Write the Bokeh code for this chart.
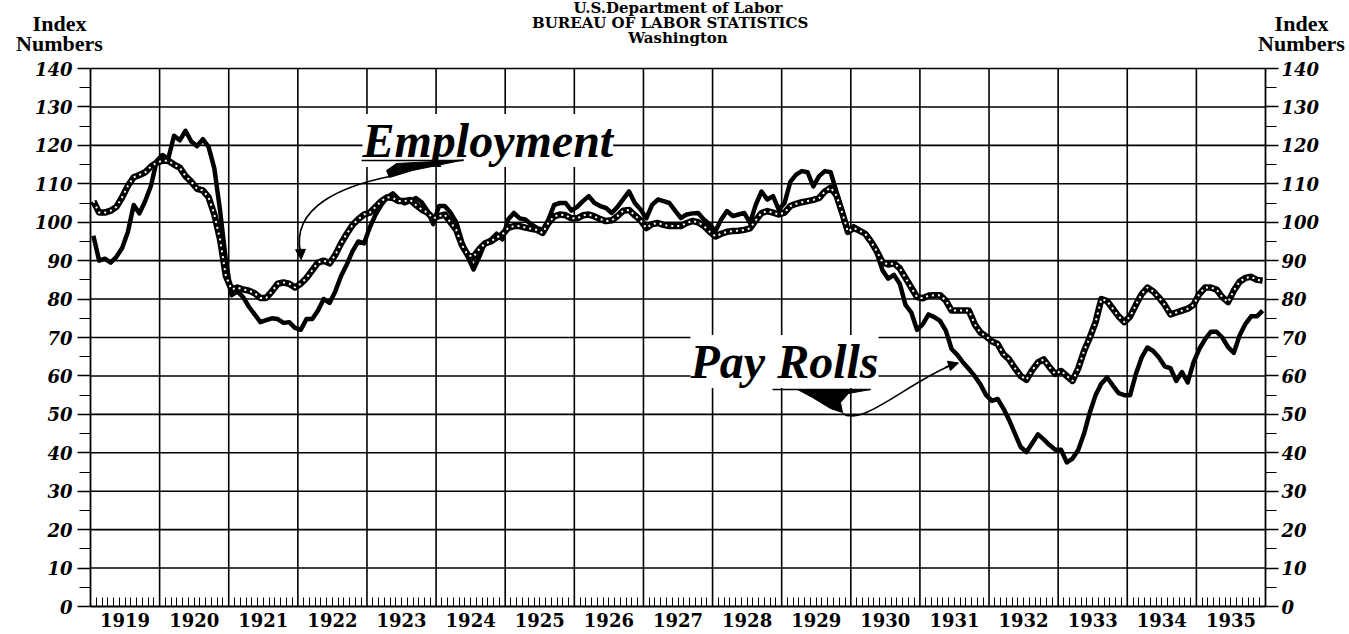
from bokeh.plotting import figure
from bokeh.models import Range1d, LinearAxis, FixedTicker, Label, Arrow, NormalHead
from bokeh.embed import file_html
from bokeh.resources import INLINE

# ---------------- data ----------------
years = list(range(1919, 1936))
y_ticks = list(range(0, 141, 10))

employment = [
    105.5, 102.5, 102.5, 103.0, 104.0, 106.5, 109.5, 111.7, 112.3, 113.0, 114.5, 115.5,   # 1919
    116.0, 116.0, 115.0, 114.2, 112.0, 110.5, 108.7, 108.3, 106.5, 102.0, 95.5, 86.0,     # 1920
    82.5, 83.0, 82.5, 82.2, 81.5, 80.3, 80.3, 82.0, 84.0, 84.3, 84.0, 83.0,               # 1921
    84.0, 85.5, 87.5, 89.5, 90.0, 89.3, 91.5, 94.5, 97.0, 99.3, 100.8, 102.0,             # 1922
    102.5, 104.0, 105.5, 106.5, 106.3, 105.5, 105.5, 105.8, 104.5, 103.3, 102.5, 101.0,   # 1923
    101.6, 102.0, 100.0, 98.0, 94.0, 91.5, 91.0, 93.0, 94.5, 95.0, 96.0, 96.8,            # 1924
    98.5, 99.0, 99.0, 98.6, 98.3, 98.0, 97.2, 99.8, 101.5, 102.0, 101.8, 101.0,           # 1925
    101.0, 101.8, 102.0, 101.5, 100.8, 100.3, 100.5, 101.6, 103.0, 103.2, 101.8, 100.5,   # 1926
    98.5, 99.5, 99.8, 99.3, 99.0, 99.0, 99.0, 99.8, 100.3, 100.0, 99.0, 97.5,             # 1927
    96.3, 97.0, 97.5, 97.7, 97.8, 98.0, 98.4, 100.5, 102.4, 102.9, 102.5, 102.0,          # 1928
    102.5, 104.2, 104.8, 105.2, 105.5, 105.8, 106.3, 108.0, 109.0, 107.0, 102.5, 97.5,    # 1929
    98.5, 97.8, 97.0, 95.0, 92.5, 89.6, 89.0, 89.3, 88.0, 85.5, 83.0, 80.5,               # 1930
    80.2, 80.9, 81.0, 81.0, 79.6, 77.0, 77.0, 77.0, 77.0, 73.5, 71.3, 70.3,               # 1931
    69.0, 68.3, 65.7, 64.3, 62.0, 60.0, 59.0, 61.5, 63.5, 64.3, 62.3, 60.5,               # 1932
    61.3, 60.0, 58.7, 62.0, 66.5, 70.0, 74.0, 80.0, 79.5, 77.5, 75.5, 74.0,               # 1933
    75.5, 78.5, 81.3, 83.0, 82.0, 80.4, 78.5, 76.0, 76.5, 77.0, 77.5, 78.5,               # 1934
    81.3, 83.0, 83.0, 82.5, 80.5, 79.2, 82.2, 84.5, 85.5, 85.8, 85.0, 84.8,               # 1935
]

pay_rolls = [
    96.5, 90.0, 90.5, 89.5, 91.0, 93.3, 97.5, 104.5, 102.3, 105.5, 109.5, 116.0,          # 1919
    117.5, 116.5, 122.5, 121.3, 123.8, 121.0, 119.8, 121.6, 119.6, 114.0, 103.0, 90.0,    # 1920
    81.0, 82.0, 80.5, 78.0, 76.0, 74.0, 74.5, 75.0, 74.8, 73.8, 74.0, 72.5,               # 1921
    72.0, 74.8, 74.8, 77.0, 80.0, 79.0, 82.0, 86.0, 89.0, 92.5, 95.0, 94.5,               # 1922
    98.7, 102.0, 104.5, 106.5, 107.5, 106.0, 104.9, 105.5, 106.3, 105.2, 103.0, 99.5,     # 1923
    104.2, 104.2, 102.5, 100.0, 95.0, 91.0, 87.7, 91.0, 94.6, 95.5, 97.0, 95.5,           # 1924
    100.7, 102.4, 101.0, 100.7, 99.5, 98.5, 98.0, 100.7, 104.5, 105.0, 105.0, 103.0,      # 1925
    104.0, 105.5, 106.8, 105.0, 104.2, 103.7, 102.4, 104.0, 106.0, 108.0, 105.0, 103.3,   # 1926
    101.0, 104.5, 105.9, 105.5, 105.0, 103.0, 101.1, 102.0, 102.3, 102.4, 100.7, 99.4,    # 1927
    97.7, 100.7, 102.9, 101.6, 102.0, 102.4, 99.8, 104.5, 108.0, 105.9, 106.8, 103.3,     # 1928
    105.0, 110.5, 112.4, 113.3, 113.0, 109.3, 112.0, 113.3, 113.0, 108.0, 103.0, 97.5,    # 1929
    99.0, 98.0, 97.0, 95.0, 92.0, 87.5, 85.3, 86.3, 84.0, 78.5, 76.5, 72.0,               # 1930
    73.5, 76.0, 75.3, 74.3, 71.8, 67.0, 65.5, 63.5, 61.8, 60.0, 57.8, 55.0,               # 1931
    53.5, 54.0, 51.5, 48.5, 45.0, 41.5, 40.2, 42.5, 44.8, 43.5, 42.0, 40.8,               # 1932
    40.8, 37.5, 38.5, 40.8, 45.0, 50.5, 55.0, 58.0, 59.6, 57.5, 55.5, 55.0,               # 1933
    55.0, 60.5, 64.8, 67.4, 66.5, 64.8, 62.5, 62.0, 58.7, 61.0, 58.3, 63.5,               # 1934
    67.0, 69.5, 71.5, 71.5, 70.0, 67.5, 66.0, 70.5, 73.5, 75.5, 75.5, 77.0,               # 1935
]

month_x = [years[0] + (i + 0.5) / 12 for i in range(len(employment))]

# ---------------- layout (canvas = frame; axes fixed inside) ----------------
W, H = 1349, 634
PX0, PX1 = 90, 1265        # canvas x of the left / right axis
PY_TOP, PY_BOT = 68, 606   # canvas y of the top / bottom of the value scale
X0, X1 = years[0], years[-1] + 1
Y0, Y1 = y_ticks[0], y_ticks[-1]
sx = (X1 - X0) / (PX1 - PX0)
sy = (Y1 - Y0) / (PY_BOT - PY_TOP)

p = figure(width=W, height=H,
           x_range=Range1d(X0 - PX0 * sx, X1 + (W - PX1) * sx),
           y_range=Range1d(Y0 - (H - PY_BOT) * sy, Y1 + PY_TOP * sy),
           x_axis_location=None, y_axis_location=None,
           toolbar_location=None, output_backend="svg", min_border=0)
p.outline_line_color = None
p.background_fill_color = "white"
p.border_fill_color = "white"
p.title.visible = False
for g in p.grid:
    g.visible = False


def X(px):
    return X0 + (px - PX0) * sx


def Y(py):
    return Y1 - (py - PY_TOP) * sy


# grid lines (years / tens)
p.segment(x0=X0, x1=X1, y0=y_ticks[1:], y1=y_ticks[1:], line_color="black", line_width=1.6)
p.segment(x0=years[1:], x1=years[1:], y0=Y0, y1=Y1, line_color="black", line_width=1.6)


# axes
def style_y(ax, standoff):
    ax.ticker = FixedTicker(ticks=y_ticks, minor_ticks=[v + 5 for v in y_ticks[:-1]])
    ax.bounds = (Y0, Y1)
    ax.major_tick_out = 13
    ax.major_tick_in = 0
    ax.minor_tick_out = 11
    ax.minor_tick_in = 0
    ax.major_tick_line_width = 1.6
    ax.minor_tick_line_width = 1.2
    ax.major_tick_line_color = "black"
    ax.minor_tick_line_color = "black"
    ax.axis_line_width = 1.8
    ax.axis_line_color = "black"
    ax.major_label_text_font = "DejaVu Serif"
    ax.major_label_text_font_style = "bold italic"
    ax.major_label_text_font_size = "18px"
    ax.major_label_text_color = "black"
    ax.major_label_standoff = standoff


left_axis = LinearAxis(fixed_location=X0)
style_y(left_axis, 5)
p.add_layout(left_axis, "left")
right_axis = LinearAxis(fixed_location=X1)
style_y(right_axis, 3)
p.add_layout(right_axis, "right")

xa = LinearAxis(fixed_location=Y0)
xa.bounds = (X0, X1)
xa.ticker = FixedTicker(ticks=[y + 0.5 for y in years],
                        minor_ticks=[years[0] + k / 12 for k in range(1, 12 * len(years)) if k % 12])
xa.major_label_overrides = {y + 0.5: str(y) for y in years}
xa.major_tick_out = 0
xa.major_tick_in = 0
xa.major_tick_line_color = None
xa.minor_tick_in = 9
xa.minor_tick_out = 0
xa.minor_tick_line_width = 1
xa.minor_tick_line_color = "black"
xa.axis_line_width = 1.8
xa.axis_line_color = "black"
xa.major_label_text_font = "DejaVu Serif"
xa.major_label_text_font_style = "bold"
xa.major_label_text_font_size = "18px"
xa.major_label_text_color = "black"
xa.major_label_standoff = 6
p.add_layout(xa, "below")

# ---------------- series ----------------
p.line(month_x, pay_rolls, line_color="black", line_width=4.5, line_join="round")
p.line(month_x, employment, line_color="black", line_width=6.5, line_join="round")
p.line(month_x, employment, line_color="white", line_width=2, line_dash="2 4")

# ---------------- texts ----------------
title_lines = ["U.S.Department of Labor", "BUREAU  OF  LABOR  STATISTICS", "Washington"]
for t, py in zip(title_lines, [7, 22, 37]):
    p.add_layout(Label(x=X((PX0 + PX1) / 2), y=Y(py), text=t, text_align="center",
                       text_baseline="middle", text_font="DejaVu Serif",
                       text_font_style="bold", text_font_size="15px", text_color="black"))

for cx in (59, 1301):
    for t, py in (("Index", 22.5), ("Numbers", 43)):
        p.add_layout(Label(x=X(cx), y=Y(py), text=t, text_align="center", text_baseline="middle",
                           text_font="Liberation Serif", text_font_style="bold",
                           text_font_size="22px", text_color="black"))

p.add_layout(Label(x=X(362), y=Y(140), text="Employment", text_align="left",
                   text_baseline="middle", text_font="Liberation Serif",
                   text_font_style="bold italic", text_font_size="48px", text_color="black",
                   background_fill_color="white"))
p.add_layout(Label(x=X(690), y=Y(361), text="Pay Rolls", text_align="left",
                   text_baseline="middle", text_font="Liberation Serif",
                   text_font_style="bold italic", text_font_size="48px", text_color="black",
                   background_fill_color="white"))

# swash + arrow for Employment
p.line([X(361), X(463)], [Y(160), Y(160)], line_color="black", line_width=1.5, level="overlay")
p.patch([X(463), X(396), X(386), X(389), X(412)],
        [Y(159.5), Y(163), Y(170), Y(177), Y(170)], color="black", level="overlay")
p.bezier(x0=[X(389)], y0=[Y(176)], x1=[X(300)], y1=[Y(252)],
         cx0=[X(345)], cy0=[Y(185)], cx1=[X(290)], cy1=[Y(205)],
         line_color="black", line_width=1.6, level="overlay")
p.add_layout(Arrow(end=NormalHead(size=10, fill_color="black", line_color="black"),
                   x_start=X(300), y_start=Y(248), x_end=X(300.5), y_end=Y(259),
                   line_color="black", line_width=1.6))

# swash + arrow for Pay Rolls
p.line([X(772), X(870)], [Y(389), Y(389)], line_color="black", line_width=1.5, level="overlay")
p.patch([X(797), X(870), X(848), X(840), X(842), X(830), X(812)],
        [Y(389), Y(389), Y(393), Y(402), Y(412), Y(408), Y(397)], color="black", level="overlay")
p.bezier(x0=[X(842)], y0=[Y(413)], x1=[X(950)], y1=[Y(365)],
         cx0=[X(862)], cy0=[Y(426)], cx1=[X(905)], cy1=[Y(384)],
         line_color="black", line_width=1.6, level="overlay")
p.add_layout(Arrow(end=NormalHead(size=10, fill_color="black", line_color="black"),
                   x_start=X(945), y_start=Y(366.5), x_end=X(958), y_end=Y(362.5),
                   line_color="black", line_width=1.6))

open("out.html", "w").write(file_html(p, INLINE))
